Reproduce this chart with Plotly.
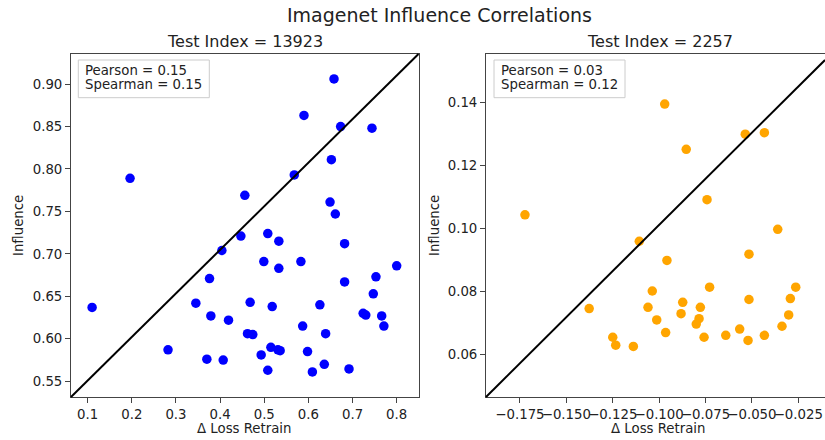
import plotly.graph_objects as go

# ---------------- data ----------------
left_x = [0.658, 0.590, 0.673, 0.744, 0.652, 0.196, 0.568, 0.456, 0.649, 0.661,
          0.447, 0.508, 0.533, 0.682, 0.404, 0.499, 0.583, 0.533, 0.800, 0.376,
          0.753, 0.682, 0.747, 0.110, 0.345, 0.468, 0.518, 0.626, 0.379, 0.419,
          0.724, 0.730, 0.766, 0.771, 0.587, 0.462, 0.474, 0.639, 0.282, 0.515,
          0.536, 0.531, 0.598, 0.370, 0.407, 0.493, 0.508, 0.609, 0.636, 0.692]
left_y = [0.906, 0.863, 0.850, 0.848, 0.811, 0.789, 0.793, 0.769, 0.761, 0.747,
          0.721, 0.724, 0.715, 0.712, 0.704, 0.691, 0.691, 0.683, 0.686, 0.671,
          0.673, 0.667, 0.653, 0.637, 0.642, 0.643, 0.638, 0.640, 0.627, 0.622,
          0.630, 0.628, 0.627, 0.615, 0.615, 0.606, 0.605, 0.606, 0.587, 0.590,
          0.586, 0.587, 0.585, 0.576, 0.575, 0.581, 0.563, 0.561, 0.570, 0.5645]

right_x = [-0.0970, -0.0536, -0.0433, -0.0854, -0.0742, -0.1723, -0.0361, -0.1107,
           -0.0958, -0.0516, -0.0728, -0.0264, -0.1037, -0.0293, -0.0516, -0.0873,
           -0.1377, -0.1060, -0.0778, -0.0882, -0.0302, -0.1013, -0.0785, -0.0800,
           -0.0338, -0.0566, -0.0965, -0.1250, -0.1234, -0.1139, -0.0758, -0.0641,
           -0.0521, -0.0433]
right_y = [0.1396, 0.1300, 0.1305, 0.1252, 0.1092, 0.1044, 0.0998, 0.0960,
           0.0899, 0.0919, 0.0814, 0.0814, 0.0802, 0.0778, 0.0775, 0.0766,
           0.0746, 0.0750, 0.0750, 0.0730, 0.0726, 0.0710, 0.0714, 0.0697,
           0.0690, 0.0681, 0.0670, 0.0655, 0.0630, 0.0626, 0.0655, 0.0661,
           0.0645, 0.0661]

left_xticks = [0.1, 0.2, 0.3, 0.4, 0.5, 0.6, 0.7, 0.8]
left_yticks = [0.55, 0.60, 0.65, 0.70, 0.75, 0.80, 0.85, 0.90]
right_xticks = [-0.175, -0.150, -0.125, -0.100, -0.075, -0.050, -0.025]
right_yticks = [0.06, 0.08, 0.10, 0.12, 0.14]

suptitle = "Imagenet Influence Correlations"
titles = ["Test Index = 13923", "Test Index = 2257"]
stats = [["Pearson = 0.15", "Spearman = 0.15"], ["Pearson = 0.03", "Spearman = 0.12"]]
xlabel = "Δ Loss Retrain"
ylabel = "Influence"

# ---------------- layout helpers ----------------
W, H = 825, 440
ML, MR, MT, MB = 71, 0, 54, 43
PW = W - ML - MR
PH = H - MT - MB


def px(p):
    return (p - ML) / PW


def py(p):
    return (H - MB - p) / PH


FONT = "DejaVu Sans"
TXT = "#222222"
SPINE = "#444444"

fig = go.Figure()
fig.add_trace(go.Scatter(x=left_x, y=left_y, mode="markers", xaxis="x", yaxis="y",
                         marker=dict(color="#0000ff", size=9.5, line=dict(width=0)),
                         showlegend=False))
fig.add_trace(go.Scatter(x=right_x, y=right_y, mode="markers", xaxis="x2", yaxis="y2",
                         marker=dict(color="#ffa500", size=9.5, line=dict(width=0)),
                         showlegend=False))

axis_common = dict(showgrid=False, zeroline=False, showline=True, linecolor=SPINE,
                   linewidth=1, ticks="outside", ticklen=5, tickwidth=1, tickangle=0,
                   tickcolor=SPINE, tickfont=dict(family=FONT, size=13.3, color=TXT))

fig.update_layout(
    width=W, height=H,
    margin=dict(l=ML, r=MR, t=MT, b=MB, pad=0),
    paper_bgcolor="white", plot_bgcolor="white",
    font=dict(family=FONT, color=TXT),
    xaxis=dict(domain=[0, px(418.5)], range=[0.0622, 0.8494], tickvals=left_xticks,
               tickformat=".1f", mirror=True, anchor="y", **axis_common),
    yaxis=dict(domain=[0, 1], range=[0.5315, 0.9354], tickvals=left_yticks,
               tickformat=".2f", mirror=True, anchor="x", **axis_common),
    xaxis2=dict(domain=[px(486), 1], range=[-0.1933, -0.01063], tickvals=right_xticks,
                tickformat=".3f", mirror=True, anchor="y2", **axis_common),
    yaxis2=dict(domain=[0, 1], range=[0.04652, 0.15549], tickvals=right_yticks,
                tickformat=".2f", mirror=False, anchor="x2", **axis_common),
)

# diagonal lines (axes corner to corner)
fig.add_shape(type="line", xref="x domain", yref="y domain", x0=0, y0=0, x1=1, y1=1,
              line=dict(color="black", width=2))
fig.add_shape(type="line", xref="x2 domain", yref="y2 domain", x0=0, y0=0, x1=1,
              y1=339 / 345, line=dict(color="black", width=2))

# legend-like boxes
for (x0, x1) in [(78.3, 209.3), (494, 625)]:
    fig.add_shape(type="rect", xref="paper", yref="paper", x0=px(x0), x1=px(x1),
                  y0=py(97.7), y1=py(60), fillcolor="white",
                  line=dict(color="#cccccc", width=1), layer="above")

ann = []
for i, tx in enumerate([83.3, 499]):
    for j, yy in enumerate([70.5, 84.5]):
        ann.append(dict(text=stats[i][j], xref="paper", yref="paper", x=px(tx), y=py(yy),
                        xanchor="left", yanchor="middle", showarrow=False,
                        font=dict(family=FONT, size=13.3, color=TXT)))

ann.append(dict(text=suptitle, xref="paper", yref="paper", x=px(439.5), y=py(15.5),
                xanchor="center", yanchor="middle", showarrow=False,
                font=dict(family=FONT, size=19, color=TXT)))
for t, cx in zip(titles, [244.7, 659.5]):
    ann.append(dict(text=t, xref="paper", yref="paper", x=px(cx), y=py(41),
                    xanchor="center", yanchor="middle", showarrow=False,
                    font=dict(family=FONT, size=16, color=TXT)))
for cx in [244.7, 658.5]:
    ann.append(dict(text=xlabel, xref="paper", yref="paper", x=px(cx), y=py(428),
                    xanchor="center", yanchor="middle", showarrow=False,
                    font=dict(family=FONT, size=13.3, color=TXT)))
for cx in [18.5, 434.5]:
    ann.append(dict(text=ylabel, xref="paper", yref="paper", x=px(cx), y=py(225.5),
                    xanchor="center", yanchor="middle", showarrow=False, textangle=-90,
                    font=dict(family=FONT, size=13.3, color=TXT)))
fig.update_layout(annotations=ann)

fig.write_html("out.html", config={"displayModeBar": False},
               post_script="document.body.style.margin='0';document.body.style.overflow='hidden';")
